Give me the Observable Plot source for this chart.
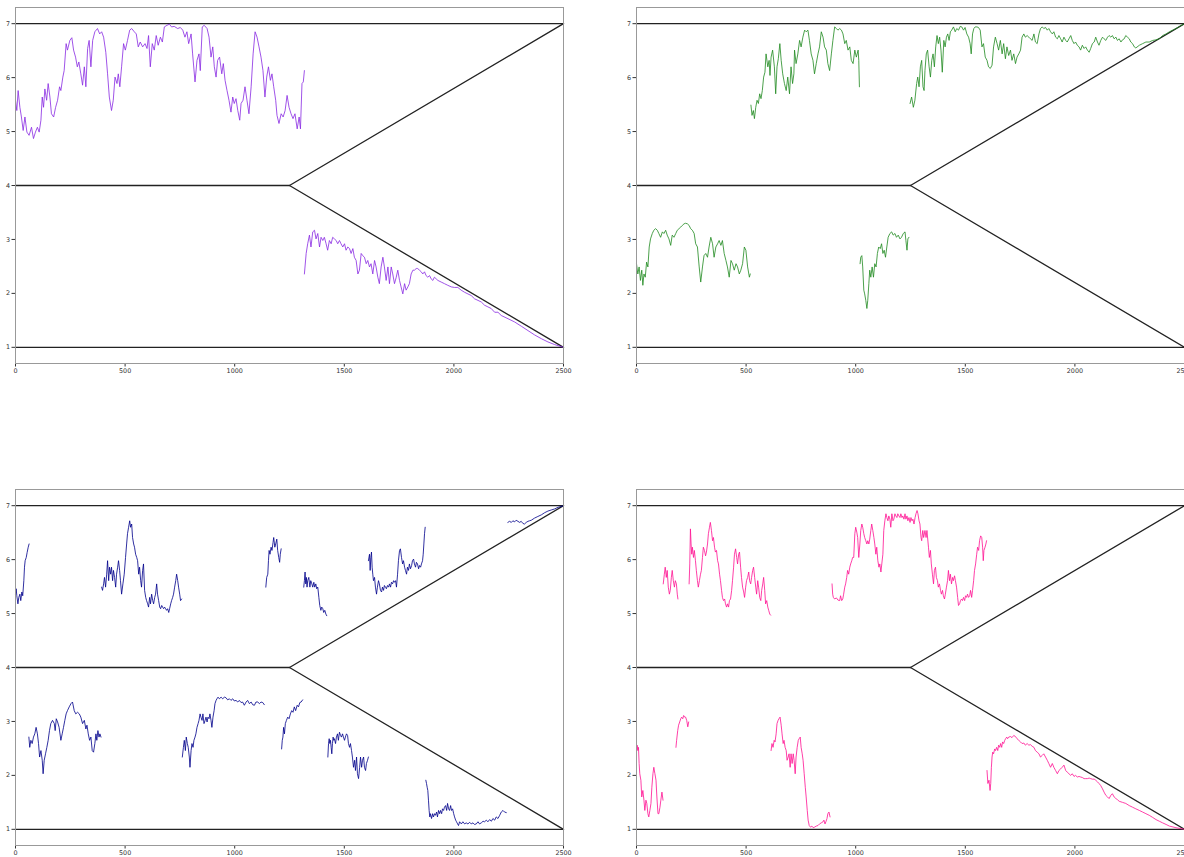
<!DOCTYPE html>
<html>
<head>
<meta charset="utf-8">
<script src="https://cdn.jsdelivr.net/npm/d3@7"></script>
<script src="https://cdn.jsdelivr.net/npm/@observablehq/plot@0.6"></script>
<style>
  html, body { margin: 0; padding: 0; background: #fff; width: 1184px; height: 857px; overflow: hidden; }
  #root { position: relative; width: 1184px; height: 857px; }
  .panel { position: absolute; }
  .panel text { fill: #333; }
</style>
</head>
<body>
<div id="root"></div>
<script>
// ---------- axis ticks ----------
const xTicks = [0, 500, 1000, 1500, 2000, 2500];
const yTicks = [1, 2, 3, 4, 5, 6, 7];

// ---------- boundary lines (same in each panel) ----------
const boundTop = [[0, 7], [2500, 7]];
const boundBottom = [[0, 1], [2500, 1]];
const boundMid = [[0, 4], [1250, 4]];
const boundUpper = [[1250, 4], [2500, 7]];
const boundLower = [[1250, 4], [2500, 1]];

// ---------- panel 1 (purple) ----------
const purpleA = [[0,5.58],[6,5.39],[12,5.76],[20,5.45],[27,5.27],[35,5.02],[43,5.27],[52,4.99],[62,4.93],[73,5.08],[82,4.87],[91,4.99],[100,5.08],[108,4.99],[116,5.21],[122,5.64],[128,5.45],[134,5.79],[142,5.58],[149,5.89],[157,5.64],[164,5.33],[174,5.27],[183,5.45],[192,5.58],[201,5.83],[207,5.76],[216,6.01],[222,6.13],[231,6.63],[237,6.51],[248,6.69],[257,6.74],[265,6.51],[274,6.38],[282,6.2],[289,6.29],[298,6.07],[306,5.86],[314,6.2],[321,5.83],[329,6.54],[336,6.69],[344,6.2],[352,6.69],[362,6.85],[374,6.91],[384,6.81],[393,6.85],[402,6.75],[412,6.47],[420,6.07],[428,5.64],[438,5.39],[446,5.58],[454,6.01],[463,5.89],[469,6.07],[476,5.83],[484,6.2],[493,6.63],[501,6.51],[511,6.69],[521,6.88],[530,6.91],[542,6.85],[551,6.81],[560,6.57],[569,6.66],[580,6.57],[591,6.63],[600,6.54],[607,6.78],[615,6.2],[624,6.63],[633,6.51],[642,6.78],[651,6.6],[661,6.75],[670,6.66],[679,6.94],[691,6.97],[702,6.99],[712,6.94],[724,6.95],[740,6.91],[752,6.93],[763,6.88],[773,6.75],[782,6.85],[790,6.63],[801,6.81],[808,6.44],[819,5.92],[828,6.32],[837,6.44],[843,6.13],[852,6.94],[861,6.97],[874,6.91],[883,6.75],[892,6.38],[900,6.57],[907,6.2],[915,6.01],[922,6.32],[931,6.38],[941,6.07],[948,6.26],[956,5.95],[965,5.76],[974,5.58],[983,5.36],[991,5.64],[998,5.52],[1006,5.61],[1014,5.39],[1023,5.21],[1029,5.52],[1038,5.58],[1047,5.83],[1056,5.58],[1065,5.33],[1075,5.83],[1084,6.44],[1093,6.85],[1102,6.75],[1111,6.57],[1120,6.38],[1129,6.13],[1138,5.64],[1146,6.01],[1154,6.2],[1163,5.95],[1170,6.07],[1178,5.83],[1187,5.58],[1193,5.3],[1202,5.15],[1212,5.33],[1221,5.27],[1230,5.39],[1239,5.67],[1248,5.45],[1257,5.33],[1266,5.24],[1275,5.33],[1285,5.05],[1294,5.27],[1300,5.05],[1307,5.89],[1313,5.92],[1318,6.13]];
const purpleB = [[1318,2.36],[1326,2.74],[1333,2.92],[1341,3.08],[1348,2.86],[1356,3.14],[1364,3.17],[1371,3.01],[1379,3.11],[1387,2.86],[1394,3.04],[1402,2.98],[1409,3.04],[1417,2.92],[1424,2.8],[1432,2.98],[1440,2.92],[1447,3.04],[1455,3.01],[1463,2.98],[1470,2.92],[1478,2.98],[1485,2.92],[1493,2.86],[1501,2.92],[1508,2.8],[1516,2.86],[1524,2.83],[1531,2.74],[1539,2.83],[1546,2.67],[1554,2.61],[1562,2.36],[1569,2.43],[1577,2.74],[1584,2.7],[1592,2.67],[1600,2.55],[1607,2.61],[1615,2.49],[1622,2.55],[1630,2.36],[1638,2.61],[1645,2.49],[1653,2.3],[1660,2.18],[1668,2.49],[1676,2.67],[1683,2.49],[1691,2.24],[1699,2.49],[1706,2.18],[1714,2.49],[1721,2.36],[1729,2.18],[1737,2.3],[1744,2.43],[1752,2.24],[1759,2.12],[1767,1.99],[1775,2.18],[1782,2.06],[1790,2.12],[1797,2.18],[1805,2.36],[1813,2.43],[1820,2.43],[1828,2.46],[1835,2.46],[1843,2.43],[1851,2.4],[1858,2.36],[1866,2.4],[1873,2.33],[1881,2.3],[1889,2.33],[1896,2.27],[1904,2.24],[1911,2.3],[1919,2.27],[1927,2.24],[1942,2.21],[1957,2.18],[1972,2.15],[1988,2.12],[2003,2.11],[2018,2.11],[2033,2.06],[2049,2.02],[2064,1.99],[2079,1.96],[2094,1.9],[2110,1.87],[2125,1.84],[2140,1.78],[2155,1.75],[2170,1.72],[2186,1.65],[2201,1.65],[2216,1.59],[2247,1.53],[2277,1.47],[2308,1.39],[2338,1.31],[2368,1.23],[2399,1.16],[2429,1.1],[2460,1.05],[2500,1.0]];

// ---------- panel 2 (green) ----------
const greenA = [[0,2.55],[6,2.36],[12,2.49],[18,2.24],[24,2.43],[29,2.15],[34,2.36],[40,2.3],[46,2.58],[52,2.49],[58,2.86],[64,3.01],[72,3.11],[79,3.17],[87,3.2],[95,3.17],[102,3.11],[110,3.04],[118,3.14],[125,3.11],[133,3.17],[140,3.08],[148,3.01],[156,2.89],[163,3.08],[171,3.04],[179,3.11],[186,3.17],[194,3.2],[202,3.23],[209,3.26],[217,3.29],[224,3.3],[232,3.29],[240,3.26],[247,3.2],[255,3.17],[263,3.11],[270,2.92],[278,2.86],[286,2.49],[293,2.21],[301,2.49],[308,2.7],[316,2.74],[324,2.67],[331,2.86],[339,3.04],[347,2.92],[354,2.67],[362,2.86],[370,2.92],[377,2.98],[385,2.89],[392,2.98],[400,2.74],[408,2.61],[415,2.49],[423,2.3],[431,2.61],[438,2.55],[446,2.43],[454,2.55],[461,2.49],[469,2.36],[476,2.43],[484,2.55],[492,2.86],[499,2.8],[507,2.49],[515,2.3],[519,2.36]];
const greenB = [[522,5.49],[527,5.3],[533,5.39],[538,5.24],[544,5.45],[550,5.58],[556,5.52],[562,5.7],[568,5.61],[574,5.76],[580,6.01],[586,6.1],[591,6.44],[599,6.2],[605,6.32],[609,6.04],[614,6.38],[621,6.51],[629,6.2],[635,5.7],[641,6.2],[647,6.35],[654,6.63],[660,6.32],[667,6.07],[675,5.89],[683,5.76],[690,6.01],[698,5.7],[705,6.2],[712,5.89],[718,6.07],[721,6.51],[728,6.26],[736,6.44],[744,6.69],[751,6.57],[759,6.75],[767,6.88],[774,6.85],[782,6.88],[789,6.69],[797,6.44],[805,6.32],[812,6.07],[820,6.26],[828,6.44],[835,6.57],[843,6.85],[851,6.75],[858,6.57],[866,6.51],[873,6.26],[881,6.13],[889,6.44],[896,6.69],[904,6.94],[912,6.91],[919,6.88],[927,6.91],[935,6.88],[942,6.81],[950,6.63],[957,6.69],[965,6.51],[973,6.57],[980,6.32],[988,6.26],[996,6.51],[1003,6.38],[1011,6.51],[1014,6.32],[1017,5.83]];
const greenC = [[1020,2.55],[1023,2.67],[1028,2.7],[1032,2.49],[1037,2.06],[1041,1.99],[1046,1.87],[1051,1.72],[1055,1.87],[1060,2.18],[1064,2.43],[1069,2.3],[1075,2.49],[1081,2.3],[1087,2.55],[1093,2.49],[1099,2.74],[1105,2.86],[1112,2.83],[1118,2.92],[1124,2.74],[1130,2.8],[1136,2.67],[1142,2.86],[1148,3.04],[1156,3.11],[1164,3.14],[1171,3.08],[1179,3.11],[1186,3.04],[1194,3.08],[1202,3.01],[1209,3.04],[1217,3.11],[1225,3.14],[1229,2.98],[1234,2.8],[1238,3.01],[1243,3.04]];
const greenD = [[1248,5.52],[1255,5.64],[1263,5.45],[1270,5.58],[1278,5.89],[1283,6.01],[1289,5.83],[1295,6.2],[1301,6.32],[1307,5.83],[1312,5.76],[1316,6.13],[1322,6.44],[1328,6.51],[1335,6.2],[1341,6.01],[1347,6.32],[1353,6.44],[1359,6.2],[1365,6.57],[1371,6.78],[1377,6.63],[1383,6.75],[1389,6.51],[1395,6.1],[1402,6.69],[1408,6.57],[1414,6.75],[1420,6.81],[1426,6.69],[1432,6.85],[1438,6.88],[1446,6.94],[1454,6.85],[1461,6.91],[1469,6.88],[1477,6.95],[1484,6.94],[1492,6.88],[1499,6.93],[1507,6.81],[1515,6.75],[1522,6.63],[1527,6.44],[1533,6.81],[1539,6.91],[1545,6.94],[1553,6.94],[1560,6.93],[1568,6.88],[1576,6.57],[1583,6.63],[1591,6.38],[1599,6.32],[1606,6.2],[1614,6.17],[1622,6.23],[1629,6.57],[1637,6.75],[1645,6.63],[1652,6.51],[1660,6.69],[1668,6.44],[1675,6.63],[1683,6.35],[1690,6.57],[1698,6.41],[1706,6.51],[1713,6.32],[1721,6.44],[1729,6.26],[1736,6.38],[1744,6.44],[1752,6.51],[1759,6.75],[1767,6.81],[1774,6.75],[1782,6.78],[1790,6.75],[1797,6.72],[1805,6.69],[1813,6.81],[1820,6.66],[1828,6.63],[1836,6.81],[1843,6.91],[1851,6.94],[1858,6.91],[1866,6.93],[1874,6.88],[1881,6.91],[1889,6.85],[1897,6.81],[1904,6.85],[1912,6.75],[1920,6.72],[1927,6.78],[1935,6.72],[1942,6.66],[1950,6.75],[1958,6.69],[1965,6.66],[1973,6.72],[1981,6.78],[1988,6.69],[1996,6.63],[2003,6.66],[2011,6.6],[2019,6.57],[2026,6.51],[2034,6.6],[2042,6.54],[2049,6.57],[2057,6.51],[2065,6.47],[2072,6.54],[2080,6.63],[2088,6.66],[2095,6.75],[2103,6.66],[2110,6.6],[2118,6.69],[2126,6.75],[2133,6.72],[2141,6.69],[2149,6.75],[2156,6.78],[2164,6.75],[2171,6.78],[2179,6.72],[2187,6.75],[2194,6.69],[2202,6.72],[2210,6.66],[2217,6.7],[2225,6.72],[2232,6.78],[2240,6.75],[2248,6.72],[2255,6.66],[2263,6.63],[2271,6.57],[2278,6.55],[2294,6.6],[2309,6.63],[2324,6.66],[2339,6.66],[2355,6.69],[2370,6.7],[2385,6.72],[2400,6.78],[2416,6.81],[2431,6.85],[2446,6.88],[2461,6.91],[2477,6.95],[2500,7.0]];

// ---------- panel 3 (navy) ----------
const navyA = [[0,5.36],[3,5.46],[6,5.33],[11,5.18],[15,5.3],[20,5.36],[24,5.24],[29,5.4],[33,5.33],[38,5.61],[41,5.86],[44,5.98],[49,6.04],[53,6.13],[58,6.23],[62,6.29]];
const navyB = [[61,2.71],[65,2.52],[70,2.65],[76,2.59],[82,2.71],[88,2.77],[94,2.89],[100,2.77],[105,2.59],[110,2.34],[116,2.46],[122,2.28],[126,2.03],[131,2.28],[137,2.4],[143,2.52],[149,2.65],[155,2.83],[161,2.96],[169,3.02],[177,2.96],[181,2.83],[186,3.05],[192,2.99],[199,2.89],[207,2.65],[213,2.77],[219,2.89],[225,3.02],[231,3.14],[237,3.2],[245,3.27],[253,3.33],[260,3.36],[268,3.2],[275,3.14],[283,3.17],[291,3.14],[298,3.08],[306,2.96],[314,3.02],[321,2.86],[326,2.93],[332,2.77],[338,2.65],[344,2.71],[350,2.46],[356,2.43],[362,2.59],[367,2.77],[371,2.65],[376,2.83],[381,2.71],[385,2.77],[390,2.71]];
const navyC = [[393,5.49],[397,5.43],[402,5.55],[406,5.67],[411,5.49],[416,5.73],[420,5.98],[425,5.61],[429,5.86],[434,5.73],[438,5.86],[443,5.61],[447,5.8],[452,5.67],[457,5.49],[461,5.73],[466,5.86],[470,5.98],[475,5.8],[479,5.61],[484,5.36],[490,5.55],[496,5.73],[502,6.04],[507,6.29],[511,6.48],[516,6.6],[521,6.72],[525,6.6],[530,6.66],[534,6.41],[539,6.29],[543,6.23],[548,6.1],[553,6.04],[557,5.98],[562,5.73],[566,5.86],[571,5.61],[575,5.49],[580,5.8],[584,5.92],[589,5.43],[594,5.3],[598,5.24],[603,5.18],[607,5.12],[612,5.3],[616,5.18],[621,5.36],[626,5.24],[630,5.18],[635,5.3],[639,5.36],[644,5.55],[648,5.36],[653,5.24],[658,5.12],[662,5.09],[667,5.15],[671,5.12],[676,5.09],[680,5.12],[685,5.09],[689,5.06],[694,5.09],[699,5.02],[703,5.09],[708,5.18],[712,5.24],[717,5.3],[721,5.36],[726,5.49],[731,5.61],[735,5.73],[740,5.61],[744,5.49],[749,5.36],[753,5.24],[758,5.27]];
const navyD = [[761,2.34],[766,2.52],[770,2.65],[775,2.46],[779,2.71],[784,2.59],[788,2.52],[793,2.34],[796,2.15],[801,2.46],[805,2.59],[810,2.52],[814,2.65],[819,2.71],[823,2.77],[828,2.89],[833,2.96],[837,3.02],[842,3.14],[846,3.08],[851,3.02],[855,3.14],[860,2.96],[865,3.02],[869,3.08],[874,2.99],[878,3.08],[883,3.05],[887,3.14],[892,3.02],[896,2.89],[901,3.08],[906,3.2],[910,3.33],[915,3.39],[919,3.42],[924,3.45],[930,3.42],[938,3.45],[945,3.42],[953,3.45],[960,3.44],[968,3.4],[976,3.42],[983,3.39],[991,3.42],[998,3.38],[1006,3.39],[1014,3.36],[1021,3.39],[1029,3.35],[1036,3.36],[1044,3.3],[1052,3.36],[1059,3.39],[1067,3.33],[1075,3.36],[1082,3.31],[1090,3.3],[1097,3.36],[1105,3.36],[1113,3.33],[1120,3.36],[1128,3.35],[1135,3.31]];
const navyE = [[1142,5.49],[1146,5.67],[1151,5.73],[1154,5.98],[1157,6.17],[1161,6.1],[1166,6.23],[1170,6.17],[1175,6.32],[1178,6.41],[1183,6.23],[1187,6.29],[1192,6.38],[1196,6.17],[1201,6.04],[1205,5.95],[1208,6.1],[1212,6.2]];
const navyF = [[1214,2.49],[1217,2.65],[1220,2.71],[1223,2.89],[1227,2.77],[1231,2.96],[1236,3.02],[1242,3.08],[1248,3.05],[1254,3.14],[1260,3.2],[1266,3.17],[1272,3.27],[1278,3.2],[1285,3.3],[1291,3.27],[1297,3.35],[1303,3.36],[1310,3.4]];
const navyG = [[1315,5.49],[1318,5.61],[1321,5.77],[1324,5.55],[1327,5.67],[1330,5.49],[1333,5.61],[1338,5.67],[1343,5.49],[1347,5.61],[1352,5.55],[1356,5.49],[1361,5.58],[1365,5.49],[1370,5.55],[1374,5.46],[1379,5.49],[1384,5.3],[1388,5.15],[1393,5.06],[1397,5.12],[1402,5.09],[1406,5.02],[1411,5.06],[1416,4.99],[1420,4.96]];
const navyH = [[1425,2.34],[1428,2.59],[1431,2.68],[1434,2.59],[1437,2.65],[1440,2.52],[1443,2.4],[1446,2.59],[1449,2.71],[1452,2.65],[1455,2.68],[1460,2.59],[1464,2.71],[1469,2.77],[1473,2.65],[1478,2.8],[1483,2.74],[1487,2.71],[1492,2.77],[1496,2.71],[1501,2.65],[1505,2.71],[1510,2.77],[1515,2.74],[1519,2.59],[1524,2.52],[1528,2.59],[1533,2.46],[1537,2.34],[1542,2.15],[1547,2.28],[1551,2.09],[1556,2.34],[1560,2.03],[1565,1.94],[1570,2.15],[1574,2.34],[1579,2.15],[1583,2.28],[1588,2.34],[1592,2.15],[1597,2.09],[1601,2.22],[1606,2.28],[1610,2.34]];
const navyI = [[1610,5.98],[1615,6.1],[1618,5.8],[1621,6.04],[1624,6.14],[1627,5.86],[1630,5.73],[1633,5.61],[1638,5.67],[1642,5.49],[1647,5.36],[1651,5.49],[1656,5.61],[1660,5.55],[1665,5.43],[1670,5.4],[1674,5.49],[1679,5.43],[1683,5.52],[1688,5.49],[1692,5.46],[1697,5.52],[1702,5.49],[1706,5.55],[1711,5.49],[1715,5.58],[1720,5.55],[1725,5.61],[1729,5.58],[1734,5.61],[1738,5.49],[1743,5.73],[1747,5.98],[1752,6.17],[1756,6.2],[1761,6.04],[1766,5.92],[1770,5.98],[1775,5.86],[1779,5.8],[1784,5.73],[1788,5.86],[1793,5.8],[1797,5.92],[1802,5.83],[1807,5.89],[1811,5.98],[1816,6.01],[1820,5.92],[1825,5.86],[1829,5.95],[1834,5.92],[1839,5.83],[1843,5.89],[1848,5.86],[1852,5.92],[1857,5.98],[1860,6.1],[1863,6.29],[1866,6.48],[1869,6.6]];
const navyJ = [[1872,1.91],[1875,1.85],[1878,1.78],[1881,1.72],[1884,1.54],[1887,1.35],[1890,1.23],[1893,1.29],[1898,1.2],[1903,1.29],[1907,1.23],[1912,1.29],[1916,1.26],[1921,1.32],[1925,1.23],[1930,1.35],[1935,1.29],[1939,1.35],[1944,1.29],[1948,1.38],[1953,1.35],[1957,1.41],[1962,1.44],[1967,1.35],[1971,1.48],[1976,1.38],[1980,1.35],[1985,1.44],[1989,1.35],[1994,1.38],[1999,1.29],[2003,1.23],[2008,1.17],[2012,1.14],[2017,1.1],[2021,1.07],[2026,1.14],[2034,1.1],[2041,1.14],[2049,1.1],[2056,1.12],[2064,1.1],[2072,1.13],[2079,1.1],[2087,1.12],[2094,1.09],[2102,1.1],[2110,1.14],[2117,1.1],[2125,1.12],[2133,1.15],[2140,1.14],[2148,1.17],[2155,1.14],[2163,1.18],[2171,1.15],[2178,1.2],[2186,1.17],[2193,1.23],[2201,1.2],[2209,1.26],[2216,1.32],[2224,1.35],[2231,1.32],[2239,1.31]];
const navyK = [[2246,6.69],[2254,6.71],[2262,6.69],[2269,6.72],[2277,6.7],[2284,6.73],[2292,6.71],[2300,6.69],[2307,6.71],[2315,6.67],[2322,6.66],[2330,6.69],[2338,6.71],[2345,6.72],[2353,6.73],[2368,6.77],[2383,6.8],[2399,6.83],[2414,6.87],[2429,6.9],[2444,6.92],[2460,6.94],[2475,6.97],[2500,7.0]];

// ---------- panel 4 (pink) ----------
const pinkA = [[0,2.46],[3,2.56],[6,2.46],[9,2.52],[12,2.22],[15,2.03],[20,1.91],[24,1.6],[29,1.72],[34,1.54],[38,1.35],[43,1.54],[47,1.48],[52,1.29],[56,1.23],[61,1.35],[66,1.48],[70,1.78],[75,2.03],[79,2.15],[84,2.03],[89,1.91],[93,1.6],[98,1.29],[102,1.29],[107,1.41],[111,1.54],[116,1.69],[121,1.54]];
const pinkB = [[122,5.55],[127,5.73],[131,5.86],[136,5.67],[140,5.8],[145,5.49],[150,5.36],[154,5.43],[159,5.67],[163,5.8],[168,5.61],[173,5.49],[177,5.61],[182,5.55],[186,5.36],[189,5.27]];
const pinkC = [[180,2.52],[183,2.65],[188,2.83],[192,2.93],[197,2.99],[202,3.05],[206,3.08],[211,3.05],[215,3.11],[220,3.08],[224,3.08],[229,3.02],[234,2.9],[238,2.99]];
const pinkD = [[240,5.55],[243,5.92],[246,6.57],[249,6.29],[252,6.1],[255,6.23],[260,6.04],[264,6.17],[269,5.98],[273,5.8],[278,5.61],[282,5.49],[287,5.61],[292,5.73],[296,5.8],[301,6.04],[305,6.23],[310,6.17],[315,6.07],[319,6.14],[324,6.29],[328,6.48],[333,6.6],[337,6.69],[342,6.54],[347,6.35],[351,6.41],[356,6.23],[360,6.14],[365,6.17],[370,5.98],[374,5.92],[379,5.73],[383,5.61],[388,5.43],[392,5.3],[397,5.24],[402,5.27],[406,5.18],[411,5.12],[415,5.18],[420,5.12],[424,5.24],[429,5.27],[434,5.43],[438,5.61],[443,5.86],[447,6.1],[452,6.2],[457,6.04],[461,5.92],[466,6.1],[470,6.14],[475,5.86],[479,5.67],[484,5.49],[489,5.4],[493,5.3],[498,5.49],[502,5.61],[507,5.67],[512,5.77],[516,5.61],[521,5.55],[525,5.67],[530,5.8],[534,5.86],[539,5.67],[544,5.49],[548,5.36],[553,5.61],[557,5.49],[562,5.3],[567,5.24],[571,5.43],[576,5.55],[580,5.67],[585,5.43],[589,5.18],[594,5.24],[599,5.12],[603,5.06],[608,4.99],[612,4.97]];
const pinkE = [[614,2.46],[618,2.59],[623,2.52],[628,2.65],[632,2.62],[637,2.77],[641,2.96],[646,3.02],[650,3.05],[655,3.08],[660,2.93],[664,2.77],[669,2.59],[673,2.65],[678,2.52],[683,2.46],[687,2.28],[692,2.34],[696,2.4],[701,2.15],[705,2.4],[710,2.22],[715,2.4],[719,2.28],[724,2.03],[728,2.34],[733,2.52],[738,2.65],[742,2.68],[747,2.71],[751,2.52],[756,2.4],[760,2.28],[765,2.03],[770,1.78],[774,1.6],[779,1.35],[783,1.17],[788,1.07],[794,1.04],[800,1.06],[806,1.03],[812,1.04],[820,1.06],[828,1.07],[835,1.1],[843,1.12],[851,1.14],[855,1.17],[860,1.1],[864,1.14],[869,1.2],[873,1.29],[878,1.32],[883,1.23]];
const pinkF = [[892,5.55],[895,5.36],[898,5.3],[904,5.27],[912,5.29],[919,5.25],[927,5.24],[931,5.33],[936,5.24],[941,5.27],[945,5.36],[950,5.49],[954,5.55],[959,5.67],[963,5.8],[968,5.73],[973,5.86],[977,5.92],[982,5.98],[986,6.04],[991,6.04],[996,6.48],[1000,6.6],[1005,6.51],[1009,6.41],[1014,6.04],[1019,6.29],[1023,6.54],[1028,6.66],[1032,6.6],[1037,6.48],[1041,6.41],[1046,6.35],[1051,6.29],[1055,6.35],[1060,6.29],[1064,6.38],[1069,6.54],[1073,6.66],[1078,6.54],[1083,6.41],[1087,6.29],[1092,6.1],[1096,6.23],[1101,5.98],[1106,5.86],[1110,5.92],[1115,5.77],[1119,5.92],[1124,6.1],[1128,6.54],[1133,6.72],[1138,6.85],[1142,6.78],[1147,6.72],[1151,6.81],[1156,6.75],[1160,6.6],[1165,6.85],[1170,6.72],[1174,6.75],[1179,6.85],[1183,6.81],[1188,6.78],[1192,6.85],[1197,6.81],[1202,6.78],[1206,6.85],[1211,6.78],[1215,6.81],[1220,6.75],[1225,6.85],[1229,6.75],[1234,6.81],[1238,6.72],[1243,6.78],[1248,6.69],[1252,6.78],[1257,6.72],[1261,6.75],[1266,6.66],[1271,6.78],[1275,6.85],[1280,6.91],[1284,6.85],[1289,6.72],[1293,6.66],[1298,6.41],[1301,6.35],[1306,6.54],[1310,6.41],[1316,6.54],[1321,6.41],[1325,6.54],[1332,6.23],[1336,6.04],[1341,6.17],[1345,5.92],[1350,5.73],[1355,5.55],[1359,5.8],[1364,5.86],[1368,5.67],[1373,5.61],[1377,5.49],[1382,5.55],[1387,5.43],[1391,5.36],[1396,5.43],[1400,5.33],[1405,5.27],[1409,5.36],[1414,5.49],[1419,5.61],[1423,5.8],[1428,5.61],[1432,5.73],[1437,5.55],[1442,5.67],[1446,5.61],[1451,5.7],[1455,5.61],[1460,5.49],[1465,5.3],[1469,5.15],[1474,5.18],[1478,5.24],[1483,5.27],[1487,5.24],[1492,5.3],[1497,5.24],[1501,5.33],[1506,5.3],[1510,5.36],[1515,5.3],[1520,5.33],[1524,5.43],[1529,5.3],[1533,5.43],[1538,5.61],[1542,5.8],[1547,5.92],[1552,6.1],[1556,6.23],[1561,6.17],[1565,6.35],[1570,6.44],[1575,6.41],[1579,6.23],[1582,5.98],[1585,6.17],[1590,6.23],[1594,6.29],[1597,6.35]];
const pinkG = [[1599,2.09],[1603,1.85],[1608,1.91],[1613,1.72],[1616,1.85],[1619,2.15],[1622,2.34],[1625,2.43],[1629,2.4],[1634,2.49],[1638,2.46],[1643,2.52],[1648,2.46],[1652,2.56],[1657,2.52],[1661,2.59],[1666,2.52],[1670,2.62],[1675,2.59],[1680,2.65],[1684,2.68],[1689,2.71],[1693,2.68],[1698,2.71],[1706,2.72],[1713,2.7],[1721,2.74],[1729,2.72],[1736,2.68],[1744,2.65],[1752,2.62],[1759,2.59],[1767,2.6],[1774,2.56],[1782,2.59],[1790,2.56],[1797,2.57],[1805,2.54],[1813,2.52],[1820,2.46],[1828,2.43],[1836,2.4],[1843,2.34],[1851,2.37],[1858,2.4],[1866,2.34],[1874,2.28],[1881,2.22],[1889,2.15],[1897,2.22],[1904,2.15],[1912,2.09],[1920,2.03],[1927,2.09],[1935,2.12],[1942,2.15],[1950,2.19],[1958,2.09],[1965,2.06],[1973,2.03],[1981,2.0],[1988,2.03],[1996,1.98],[2003,2.0],[2011,1.97],[2019,1.98],[2026,1.97],[2034,1.96],[2042,1.94],[2049,1.94],[2057,1.94],[2065,1.95],[2072,1.94],[2080,1.93],[2088,1.93],[2095,1.91],[2103,1.88],[2110,1.85],[2118,1.81],[2126,1.75],[2133,1.69],[2141,1.63],[2149,1.6],[2156,1.57],[2164,1.63],[2171,1.66],[2179,1.6],[2187,1.57],[2194,1.55],[2202,1.52],[2217,1.5],[2232,1.48],[2248,1.44],[2263,1.41],[2278,1.38],[2294,1.35],[2309,1.32],[2324,1.29],[2339,1.26],[2355,1.22],[2370,1.18],[2385,1.15],[2400,1.12],[2416,1.09],[2431,1.06],[2461,1.03],[2500,1.0]];

// ---------- panel definitions ----------
const panelColors = ["#8a2be2", "#228b22", "#00008b", "#ff1493"];
const panelSegments = [
  [purpleA, purpleB],
  [greenA, greenB, greenC, greenD],
  [navyA, navyB, navyC, navyD, navyE, navyF, navyG, navyH, navyI, navyJ, navyK],
  [pinkA, pinkB, pinkC, pinkD, pinkE, pinkF, pinkG]
];
const panelPos = [[-5.5, -2.7], [616, -2.7], [-5.5, 479.3], [616, 479.3]];

const boundaries = [boundTop, boundBottom, boundMid, boundUpper, boundLower];

function toRows(segs) {
  const rows = [];
  segs.forEach((s, i) => s.forEach(([x, y]) => rows.push({x, y, seg: i})));
  return rows;
}

const root = document.getElementById("root");
panelSegments.forEach((segs, p) => {
  const svg = Plot.plot({
    width: 580,
    height: 380,
    marginLeft: 20,
    marginRight: 12,
    marginTop: 10,
    marginBottom: 14,
    style: {fontFamily: "DejaVu Sans, sans-serif", fontSize: "6.4px", color: "#333", background: "transparent"},
    x: {domain: [0, 2500], ticks: xTicks, tickFormat: d => String(d), tickSize: 3.5, tickPadding: 1.5, label: null},
    y: {domain: [0.7, 7.3], ticks: yTicks, tickFormat: d => String(d), tickSize: 3.5, tickPadding: 2, label: null},
    marks: [
      ...boundaries.map(b => Plot.line(b, {x: d => d[0], y: d => d[1], stroke: "#222", strokeWidth: 1.3})),
      Plot.line(toRows(segs), {x: "x", y: "y", z: "seg", stroke: panelColors[p], strokeWidth: 0.9, strokeOpacity: 0.9}),
      Plot.frame({stroke: "#999", strokeWidth: 1})
    ]
  });
  svg.classList.add("panel");
  svg.style.left = panelPos[p][0] + "px";
  svg.style.top = panelPos[p][1] + "px";
  svg.style.overflow = "visible";
  root.appendChild(svg);
});
</script>
</body>
</html>
